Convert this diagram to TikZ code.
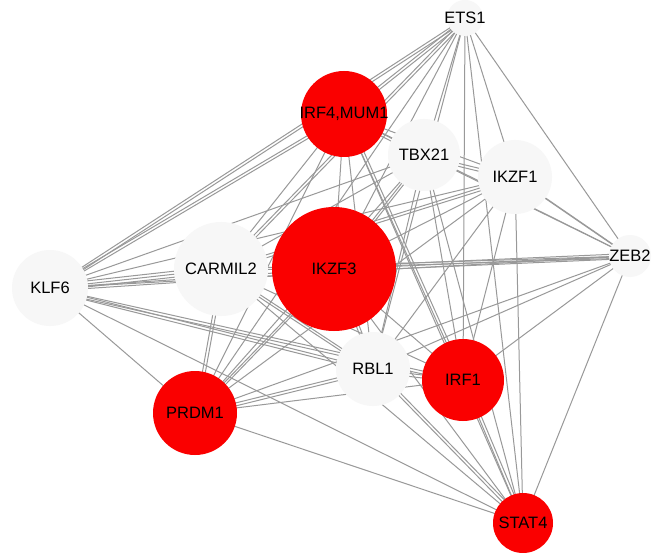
\documentclass[tikz,border=0pt]{standalone}
\usepackage{fontspec}
\setmainfont{Liberation Sans}
\usetikzlibrary{backgrounds}
\definecolor{nodered}{HTML}{FA0000}
\definecolor{nodewhite}{HTML}{F7F7F7}
\definecolor{edgegray}{HTML}{999999}
\begin{document}
\begin{tikzpicture}[x=1pt,y=-1pt,
  gnode/.style={circle,inner sep=0pt,draw=none,
    label={[font=\fontsize{16.5}{19}\selectfont,text=black]center:#1}},
  rednode/.style={gnode=#1,fill=nodered},
  whitenode/.style={gnode=#1,fill=nodewhite},
  edge/.style={draw=edgegray,line width=1pt}]
\useasboundingbox (0,0) rectangle (663,553);
% nodes
\node[whitenode=ETS1,minimum size=36pt] (ets) at (465,18) {};
\node[rednode=IRF4{,}MUM1,minimum size=86pt] (irf4) at (344,114) {};
\node[whitenode=TBX21,minimum size=72pt] (tbx) at (424,155) {};
\node[whitenode=IKZF1,minimum size=74pt] (ikzf1) at (515,177) {};
\node[whitenode=ZEB2,minimum size=42pt] (zeb) at (630,256) {};
\node[whitenode=KLF6,minimum size=76pt] (klf) at (50,288) {};
\node[whitenode=CARMIL2,minimum size=94pt] (car) at (221,269) {};
\node[rednode=IKZF3,minimum size=124pt] (ikzf3) at (334,269) {};
\node[whitenode=RBL1,minimum size=74pt] (rbl) at (373,369) {};
\node[rednode=IRF1,minimum size=82pt] (irf1) at (463,380) {};
\node[rednode=PRDM1,minimum size=84pt] (prdm) at (195,413) {};
\node[rednode=STAT4,minimum size=60pt] (stat) at (523,523) {};
% edges
\begin{pgfonlayer}{background}
\fill[white] (0,0) rectangle (663,553);
\foreach \a [count=\i] in {ets,irf4,tbx,ikzf1,zeb,klf,car,ikzf3,rbl,irf1,prdm,stat}{
  \foreach \b [count=\j] in {ets,irf4,tbx,ikzf1,zeb,klf,car,ikzf3,rbl,irf1,prdm,stat}{
    \ifnum\j>\i
      \draw[edge] (\a.center) -- (\b.center);
    \fi
  }
}
% parallel (multiple) interactions
\foreach \a/\b/\dx/\dy in {klf/car/0/3, klf/car/0/-3, klf/ikzf3/0/3, klf/irf4/2/2,
    klf/ets/2/2, klf/rbl/0/3, klf/irf1/0/3, ikzf3/zeb/0/2.5, ikzf3/zeb/0/-2.5,
    car/zeb/0/2, tbx/ikzf1/0/3, irf4/tbx/0/3, ikzf1/zeb/2/2, rbl/irf1/0/3,
    irf4/irf1/3/0, ikzf3/rbl/3/0, car/ikzf1/0/3, prdm/car/3/0, prdm/ikzf3/3/0,
    prdm/rbl/0/3, ets/irf4/2/2, ets/car/2/2, rbl/stat/2/-2, irf1/stat/3/0,
    ikzf3/tbx/3/0, car/rbl/0/3}{
  \draw[edge,transform canvas={shift={(\dx,\dy)}}] (\a.center) -- (\b.center);
}
\end{pgfonlayer}
\end{tikzpicture}
\end{document}
